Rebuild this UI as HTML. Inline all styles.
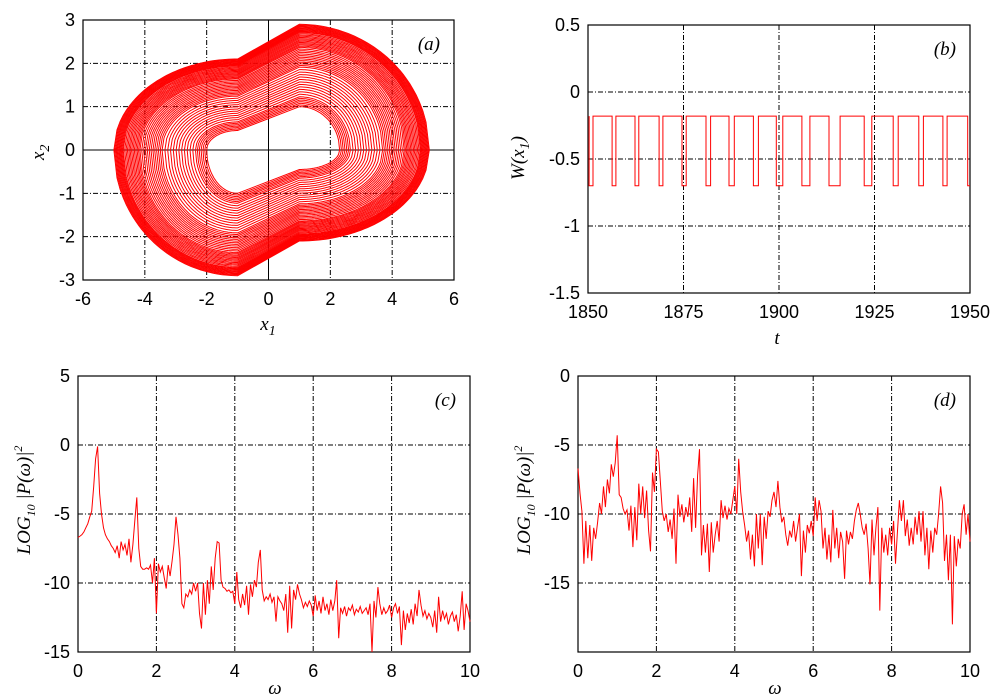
<!DOCTYPE html>
<html><head><meta charset="utf-8"><style>
body{margin:0;background:#fff}
svg{display:block}
text{font-family:"Liberation Sans",sans-serif;font-size:18px;fill:#000}
.it{font-family:"Liberation Serif",serif;font-style:italic;font-size:19px}
.grid{stroke:#000;stroke-width:1;stroke-dasharray:5,2,1,2}
.frame{fill:none;stroke:#000;stroke-width:1.2}
.ser{fill:none;stroke:#f00;stroke-width:1}
</style></head><body>
<svg id="fig" width="1000" height="700" xmlns="http://www.w3.org/2000/svg"></svg>
<script>
// Panel (a): attractor loop amplitudes (0 = innermost, 1 = outermost)
const loopAmps=[0,0.02,0.04,0.06,0.08,0.1,0.12,0.15,0.18,0.21,0.24,0.27,0.3,0.33,0.36,0.39,0.42,0.45,0.48,0.5,0.52,0.54,0.56,0.58,0.6,0.62,0.64,0.66,0.68,0.7,0.72,0.735,0.75,0.765,0.78,0.795,0.81,0.825,0.84,0.855,0.87,0.885,0.9,0.91,0.92,0.93,0.94,0.95,0.96,0.97,0.98,0.99,1.0];
// Panel (b): low intervals of W(x1)
const lowStart=[1850.3,1856.3,1862.3,1868.6,1874.6,1880.9,1886.9,1893.3,1899.3,1906.0,1913.1,1922.3,1929.9,1936.6,1942.9,1949.4];
const lowEnd=[1851.3,1857.3,1863.3,1869.6,1875.7,1882.1,1888.3,1894.6,1901.0,1908.1,1916.0,1924.3,1931.2,1937.8,1944.0,1950];
const wHigh=-0.18, wLow=-0.7;
// Panel (c)/(d) spectra, omega step 0.05 from 0 to 10
const omegaStep=0.05;
const specC=[-6.7,-6.6,-6.5,-6.3,-6.0,-5.7,-5.2,-4.8,-3.0,-1.0,-0.1,-3.5,-5.0,-6.0,-6.5,-6.8,-7.0,-7.3,-7.5,-7.8,-7.3,-8.2,-7.0,-7.6,-7.2,-8.0,-6.8,-8.5,-7.2,-5.5,-3.8,-7.5,-8.8,-9.0,-9.0,-8.9,-9.0,-8.7,-10.0,-8.2,-12.2,-8.6,-9.2,-8.8,-9.6,-10.4,-8.7,-9.5,-8.4,-7.2,-5.2,-6.5,-8.2,-11.5,-11.8,-10.8,-11.0,-10.5,-10.8,-10.0,-10.6,-10.0,-12.2,-13.3,-10.0,-12.3,-9.8,-11.5,-8.8,-10.5,-8.2,-7.0,-7.1,-9.8,-10.3,-10.4,-10.6,-10.5,-10.7,-10.6,-11.5,-9.2,-11.2,-11.8,-10.8,-11.6,-10.2,-12.3,-10.1,-11.0,-9.8,-10.3,-8.5,-7.6,-10.5,-11.3,-11.0,-11.2,-10.8,-11.4,-11.0,-12.8,-11.0,-11.3,-11.5,-12.0,-10.8,-13.6,-10.2,-13.3,-10.5,-11.2,-10.1,-10.8,-11.2,-11.8,-11.4,-11.7,-11.3,-11.6,-12.4,-10.9,-12.0,-11.3,-12.2,-11.0,-12.0,-11.5,-12.3,-11.2,-12.0,-11.3,-9.8,-14.0,-11.8,-12.2,-11.7,-12.4,-11.8,-12.0,-11.6,-12.3,-11.9,-12.1,-11.7,-12.2,-12.0,-11.8,-12.3,-11.5,-15.0,-11.3,-12.5,-10.3,-11.5,-12.3,-11.8,-12.2,-12.0,-11.6,-12.5,-11.8,-11.5,-12.2,-11.7,-14.5,-12.0,-13.4,-12.2,-12.9,-11.9,-13.0,-11.5,-12.4,-10.5,-11.6,-12.4,-12.0,-12.6,-12.2,-12.5,-13.2,-12.0,-13.6,-11.0,-12.8,-12.0,-12.6,-12.2,-13.0,-12.4,-12.1,-12.8,-12.3,-13.5,-12.4,-10.6,-13.4,-11.5,-12.0,-12.8];
const specD=[-6.7,-8.5,-9.8,-13.6,-10.5,-13.2,-10.8,-13.4,-11.0,-11.8,-10.6,-9.2,-10.0,-8.0,-9.5,-7.5,-8.5,-6.4,-7.3,-6.3,-4.3,-8.6,-8.8,-9.6,-10.0,-9.7,-11.2,-9.4,-12.4,-9.5,-11.9,-7.8,-10.0,-8.0,-10.3,-8.3,-11.2,-12.7,-7.0,-8.4,-5.3,-5.5,-7.6,-9.8,-10.5,-10.0,-11.3,-10.4,-11.8,-9.6,-13.6,-8.6,-10.2,-9.3,-10.6,-9.5,-10.2,-8.8,-11.3,-7.4,-11.0,-7.2,-5.3,-13.0,-10.8,-12.8,-10.7,-14.2,-10.6,-12.8,-11.5,-10.5,-12.0,-9.0,-10.3,-9.4,-10.4,-9.6,-10.0,-9.0,-8.0,-10.0,-6.0,-8.4,-9.8,-10.8,-12.0,-11.2,-13.3,-11.5,-13.8,-10.0,-12.5,-10.0,-13.7,-10.2,-11.8,-9.8,-10.2,-9.0,-8.4,-9.5,-7.6,-9.5,-10.6,-10.2,-11.5,-12.3,-11.2,-11.7,-10.5,-12.0,-11.0,-10.0,-14.5,-11.2,-12.8,-10.8,-11.4,-10.5,-11.6,-8.8,-10.5,-9.0,-9.8,-12.5,-11.0,-13.3,-11.5,-13.5,-9.7,-12.5,-11.0,-13.2,-11.3,-12.0,-14.7,-11.2,-12.2,-11.3,-11.8,-10.5,-9.7,-9.2,-10.0,-11.0,-11.5,-10.7,-12.5,-15.1,-10.4,-13.0,-11.0,-9.5,-17.0,-11.0,-12.8,-11.5,-13.0,-11.0,-12.2,-10.5,-13.6,-11.2,-9.0,-10.5,-9.0,-11.6,-10.4,-12.3,-11.0,-12.2,-10.2,-11.5,-9.8,-12.0,-9.8,-13.0,-11.0,-14.0,-11.2,-12.8,-11.0,-11.5,-10.0,-8.0,-9.2,-13.4,-11.5,-14.8,-11.5,-18.0,-11.6,-13.8,-11.8,-12.5,-10.0,-9.3,-11.5,-10.0,-12.0];
const ticksA_x=[-6,-4,-2,0,2,4,6], ticksA_y=[-3,-2,-1,0,1,2,3];
const ticksB_x=[1850,1875,1900,1925,1950], ticksB_y=[-1.5,-1,-0.5,0,0.5];
const ticksCD_x=[0,2,4,6,8,10], ticksC_y=[-15,-10,-5,0,5], ticksD_y=[-15,-10,-5,0];

const NS="http://www.w3.org/2000/svg", svg=document.getElementById('fig');
function mk(tag,attrs,parent,txt){const e=document.createElementNS(NS,tag);for(const k in attrs)e.setAttribute(k,attrs[k]);if(txt!==undefined)e.textContent=txt;(parent||svg).appendChild(e);return e;}
function scale(d0,d1,r0,r1){return v=>r0+(v-d0)/(d1-d0)*(r1-r0);}

function panel(name,x0,x1,y0,y1,xd,yd,xt,yt,xlab,labTxt,zeroSolid){
  const g=mk('g',{});
  
  
  const sx=scale(xd[0],xd[1],x0,x1), sy=scale(yd[0],yd[1],y1,y0);
  xt.forEach(v=>{const X=sx(v);
    if(v>xd[0]&&v<xd[1]){const l=mk('line',{x1:X,x2:X,y1:y0,y2:y1,class:(zeroSolid&&v===0)?'':'grid',stroke:'#000'},g);}
    const t=mk('text',{x:X,y:y1+25,'text-anchor':'middle'},g,xlab?xlab(v):String(v));
    });
  yt.forEach(v=>{const Y=sy(v);
    if(v>yd[0]&&v<yd[1]){const l=mk('line',{x1:x0,x2:x1,y1:Y,y2:Y,class:(zeroSolid&&v===0)?'':'grid',stroke:'#000'},g);}
    const t=mk('text',{x:x0-8,y:Y+6,'text-anchor':'end'},g,String(v));
    });
  const f=mk('rect',{x:x0,y:y0,width:x1-x0,height:y1-y0,class:'frame'},g);
  
  const lt=mk('text',{x:x1-14,y:y0+30,'text-anchor':'end',class:'it'},g,labTxt);
  
  return {g,sx,sy};
}

// (a)
const A=panel('panel-a-phase-portrait',83,454,20,280,[-6,6],[-3,3],ticksA_x,ticksA_y,null,'(a)',true);
function loopPts(a){
  const R=2.3+2.9*a, L=2.0+3.0*a, H=1.0+1.9*a, Hl=0.45+1.65*a, pts=[];
  const N=40;
  for(let i=0;i<=N;i++){const x=R-(R-1)*i/N;pts.push([x,H*Math.sqrt(Math.max(0,1-((x-1)/(R-1))**2))]);}
  pts.push([-1,Hl]);
  for(let i=1;i<=N;i++){const x=-1-(L-1)*i/N;pts.push([x,Hl*Math.sqrt(Math.max(0,1-((x+1)/(L-1))**2))]);}
  for(let i=N-1;i>=0;i--){const x=-1-(L-1)*i/N;pts.push([x,-H*Math.sqrt(Math.max(0,1-((x+1)/(L-1))**2))]);}
  pts.push([1,-Hl]);
  for(let i=1;i<=N;i++){const x=1+(R-1)*i/N;pts.push([x,-Hl*Math.sqrt(Math.max(0,1-((x-1)/(R-1))**2))]);}
  return pts;
}
loopAmps.forEach(a=>{
  const d=loopPts(a).map((p,i)=>(i?'L':'M')+A.sx(p[0]).toFixed(1)+','+A.sy(p[1]).toFixed(1)).join('')+'Z';
  const p=mk('path',{d,class:'ser'},A.g);
  
  
});
let t=mk('text',{x:268,y:330,'text-anchor':'middle',class:'it'},null,'x');mk('tspan',{dy:5,'font-size':14},t,'1');

t=mk('text',{x:0,y:0,class:'it',transform:'translate(44,160) rotate(-90)'},null,'x');mk('tspan',{dy:5,'font-size':14},t,'2');


// (b)
const B=panel('panel-b-time-series',588,970,25,293,[1850,1950],[-1.5,0.5],ticksB_x,ticksB_y,null,'(b)',false);
let dB='M'+B.sx(1850)+','+B.sy(wLow);
lowStart.forEach((s,i)=>{
  dB+='L'+B.sx(s).toFixed(1)+','+B.sy(wLow).toFixed(1);
  dB+='L'+B.sx(lowEnd[i]).toFixed(1)+','+B.sy(wLow).toFixed(1);
  if(lowEnd[i]<1950){dB+='L'+B.sx(lowEnd[i]).toFixed(1)+','+B.sy(wHigh).toFixed(1);
    const nx=i+1<lowStart.length?lowStart[i+1]:1950;
    dB+='L'+B.sx(nx).toFixed(1)+','+B.sy(wHigh).toFixed(1)+'L'+B.sx(nx).toFixed(1)+','+B.sy(wLow).toFixed(1);}
});
dB=dB.replace(/^M[^L]*L/,'M');
const pb=mk('path',{d:'M'+B.sx(1850.3)+','+B.sy(wHigh)+dB.replace(/^M/,'L'),class:'ser'},B.g);

t=mk('text',{x:777,y:344,'text-anchor':'middle',class:'it'},null,'t');

t=mk('text',{x:0,y:0,class:'it','text-anchor':'middle',transform:'translate(524,158) rotate(-90)'},null,'W(x');mk('tspan',{dy:5,'font-size':14},t,'1');mk('tspan',{dy:-5},t,')');


// (c),(d)
function spectrum(name,x0,x1,yd,yt,vals,lab,titleX,labX){
  const P=panel(name,x0,x1,376,652,[0,10],yd,ticksCD_x,yt,null,lab,false);
  const d=vals.map((v,i)=>(i?'L':'M')+P.sx(i*omegaStep).toFixed(1)+','+P.sy(Math.max(v,yd[0])).toFixed(1)).join('');
  const p=mk('path',{d,class:'ser'},P.g);
  
  let w=mk('text',{x:titleX,y:694,'text-anchor':'middle',class:'it'},null,'ω');
  
  w=mk('text',{x:0,y:0,class:'it','text-anchor':'middle','font-size':17,transform:'translate('+labX+',500) rotate(-90)'},null,'LOG');
  mk('tspan',{dy:5,'font-size':12},w,'10');mk('tspan',{dy:-5},w,' |P(ω)|');mk('tspan',{dy:-8,'font-size':12},w,'2');
  
}
spectrum('panel-c-spectrum',78,470,[-15,5],ticksC_y,specC,'(c)',275,30);
spectrum('panel-d-spectrum',578,970,[-20,0],ticksD_y,specD,'(d)',775,530);
</script>
</body></html>
